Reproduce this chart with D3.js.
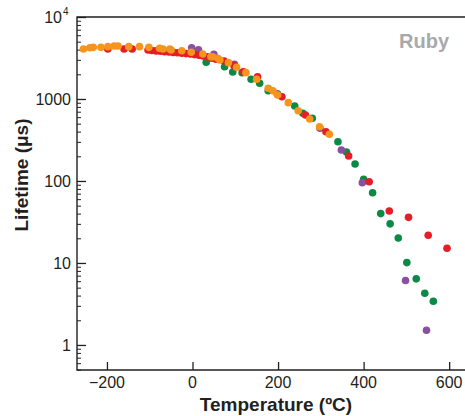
<!DOCTYPE html>
<html>
<head>
<meta charset="utf-8">
<script src="https://cdn.jsdelivr.net/npm/d3@7"></script>
<style>
  html, body { margin: 0; padding: 0; background: #fff; }
  svg text { font-family: "Liberation Sans", Arial, sans-serif; fill: #231f20; }
</style>
</head>
<body>
<svg id="chart" width="465" height="416"></svg>
<script>
(function () {
  'use strict';

  // temperature (C) / lifetime (us)
  var greenTemp = [32, 75, 94, 116, 137, 157, 177, 199, 239, 258, 280, 340, 360, 380, 400, 421, 440, 462, 481, 501, 523, 543, 563];
  var greenLife = [2805, 2475, 2135, 2095, 1740, 1553, 1262, 1151, 822, 670, 582, 301, 226, 161, 105, 72, 40, 30, 20.2, 10.1, 6.4, 4.27, 3.41];

  var purpleTemp = [-2, 14, 50, 98, 198, 298, 348, 397, 498, 547];
  var purpleLife = [4225, 3990, 3510, 2650, 1151, 440, 239, 95, 6.1, 1.51];

  var redTemp = [-198, -160, -141, -104, -95, -85, -75, -65, -55, -45, -35, -25, -15, -5, 5, 15, 25, 35, 45, 55,
    74, 97, 119, 152, 209, 264, 312, 365, 413, 460, 505, 551, 595];
  var redLife = [4070, 4070, 4070, 3960, 3900, 3860, 3820, 3780, 3740, 3700, 3660, 3620, 3580, 3540, 3480, 3420, 3350, 3260, 3150, 3050,
    2905, 2550, 2150, 1870, 1067, 638, 399, 202, 98, 43, 36, 21.8, 15.1];

  var orangeTemp = [-255, -240, -232, -214, -198, -183, -174, -149, -124, -102, -77, -69, -53, -50, -25, -3, 24, 43, 47, 59, 64,
    84, 103, 125, 150, 177, 188, 199, 224, 247, 274, 297, 320];
  var orangeLife = [4070, 4225, 4265, 4265, 4350, 4430, 4430, 4350, 4350, 4265, 4150, 4070, 4070, 3960, 3880, 3715, 3540, 3280, 3280, 3135, 2990,
    2775, 2440, 2095, 1740, 1350, 1262, 1120, 902, 720, 570, 459, 371];

  var xTicks = [-200, 0, 200, 400, 600];
  var yTicks = [1, 10, 100, 1000, 10000];
  var yTickLabels = ['1', '10', '100', '1000', '10'];

  var series = [
    {temp: greenTemp, life: greenLife, color: '#0b8a45'},
    {temp: purpleTemp, life: purpleLife, color: '#8a4f9e'},
    {temp: redTemp, life: redLife, color: '#e31e26'},
    {temp: orangeTemp, life: orangeLife, color: '#f7941d'}
  ];

  var svg = d3.select('#chart'),
      margin = {top: 17, right: 0, bottom: 46, left: 77},
      width = +svg.attr('width') - margin.left - margin.right,
      height = +svg.attr('height') - margin.top - margin.bottom,
      g = svg.append('g').attr('transform', 'translate(' + margin.left + ',' + margin.top + ')');

  var xScale = d3.scaleLinear()
      .domain([-270, 637])
      .range([0, width]);

  var yScale = d3.scaleLog()
      .domain([0.495, 10000])
      .range([height, 0]);

  // minor ticks on the log axis
  var minor = [];
  d3.range(-1, 4).forEach(function (e) {
    d3.range(2, 10).forEach(function (m) {
      var v = m * Math.pow(10, e);
      if (v >= 0.495 && v < 10000) minor.push(v);
    });
  });

  g.append('g')
      .attr('class', 'y minor')
      .call(d3.axisRight(yScale).tickValues(minor).tickSize(4).tickFormat(''))
      .call(function (s) { s.select('.domain').remove(); })
      .selectAll('line').attr('stroke', '#231f20').attr('stroke-width', 1);

  var yAxisGroup = g.append('g')
      .attr('class', 'y axis')
      .call(d3.axisRight(yScale).tickValues(yTicks).tickSize(9).tickFormat(''));
  yAxisGroup.select('.domain').remove();
  yAxisGroup.selectAll('line').attr('stroke', '#231f20').attr('stroke-width', 1.3);

  var xAxisGroup = g.append('g')
      .attr('class', 'x axis')
      .attr('transform', 'translate(0,' + height + ')')
      .call(d3.axisTop(xScale).tickValues(xTicks).tickSize(8).tickFormat(''));
  xAxisGroup.select('.domain').remove();
  xAxisGroup.selectAll('line').attr('stroke', '#231f20').attr('stroke-width', 1.3);

  // tick labels
  g.selectAll('.xlabel')
      .data(xTicks)
    .enter().append('text')
      .attr('class', 'xlabel')
      .attr('x', function (d) { return xScale(d); })
      .attr('y', height + 18)
      .style('font-size', '16px')
      .style('text-anchor', 'middle')
      .text(function (d) { return d < 0 ? '\u2212' + Math.abs(d) : d; });

  var ylab = g.selectAll('.ylabel')
      .data(yTicks)
    .enter().append('text')
      .attr('class', 'ylabel')
      .attr('x', function (d) { return d === 10000 ? -15 : -6; })
      .attr('y', function (d) { return yScale(d) + 6; })
      .style('font-size', '16px')
      .style('text-anchor', 'end')
      .text(function (d, i) { return yTickLabels[i]; });

  g.append('text')
      .attr('x', -14)
      .attr('y', yScale(10000) - 2)
      .style('font-size', '10px')
      .text('4');

  // frame: left, top, bottom
  g.append('path')
      .attr('d', 'M' + width + ',0H0V' + height + 'H' + width)
      .attr('fill', 'none')
      .attr('stroke', '#231f20')
      .attr('stroke-width', 1.4);

  var dots = g.append('g').attr('class', 'dots');
  series.forEach(function (s) {
    dots.append('g')
        .selectAll('circle')
        .data(d3.zip(s.temp, s.life))
      .enter().append('circle')
        .attr('cx', function (d) { return xScale(d[0]); })
        .attr('cy', function (d) { return yScale(d[1]); })
        .attr('r', 3.8)
        .attr('fill', s.color);
  });

  g.append('text')
      .attr('x', 372)
      .attr('y', 31)
      .style('font-size', '20px')
      .style('font-weight', 'bold')
      .style('text-anchor', 'end')
      .style('fill', '#a7a9ac')
      .text('Ruby');

  // axis titles
  svg.append('text')
      .attr('x', 276)
      .attr('y', 411)
      .style('font-size', '19px')
      .style('font-weight', 'bold')
      .style('text-anchor', 'middle')
      .text('Temperature (\u00baC)');

  svg.append('text')
      .attr('transform', 'translate(28,175) rotate(-90)')
      .style('font-size', '19px')
      .style('font-weight', 'bold')
      .style('text-anchor', 'middle')
      .text('Lifetime (\u03bcs)');
})();
</script>
</body>
</html>
